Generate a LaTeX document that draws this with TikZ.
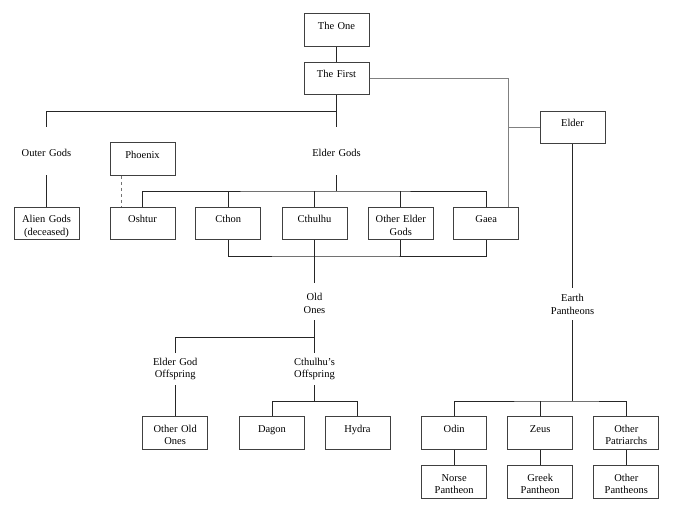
\documentclass[tikz,border=0pt]{standalone}
\usepackage{fontspec}
\setmainfont{Liberation Serif}
\usepackage{tikz}
\usetikzlibrary{positioning}

\tikzset{
  godbox/.style={draw=black!75,line width=1pt,minimum width=65pt,text width=57pt,align=center,
    inner xsep=2pt,inner ysep=2pt,text height=13.5pt,text depth=15pt},
  godname/.style={text width=60pt,align=center,inner sep=0pt,anchor=north},
  tie/.style={black!85,line width=1pt},
  link/.style={black!50,line width=1pt}
}

\begin{document}
\begin{tikzpicture}[x=1pt,y=-1pt,font=\fontsize{10.5}{12.7}\selectfont]
\useasboundingbox (0,0) rectangle (675,522);

\node[godbox] (one) at (336.5,30) {The One};
\node[godbox] (first) at (336.5,78.5) {The First};
\node[godbox] (elder) at (572.5,127.5) {Elder};
\node[godbox] (phoenix) at (142.5,159.2) {Phoenix};
\node[godname,text height=29pt,text depth=19pt] (outer) at (46.5,127) {Outer Gods};
\node[godname,text height=29pt,text depth=19pt] (eldergods) at (336.5,127) {Elder Gods};

\node[godbox] (alien) at (46.5,223.5) {Alien Gods\\(deceased)};
\node[godbox] (oshtur) at (142.5,223.5) {Oshtur};
\node[godbox] (cthon) at (228.3,223.5) {Cthon};
\node[godbox] (cthulhu) at (314.5,223.5) {Cthulhu};
\node[godbox] (otherelder) at (400.8,223.5) {Other Elder\\Gods};
\node[godbox] (gaea) at (486.2,223.5) {Gaea};

\node[godname,text height=17.7pt,text depth=19.3pt] (oldones) at (314.5,283) {Old\\Ones};
\node[godname,text height=13pt,text depth=18.7pt] (earth) at (572.5,288.3) {Earth\\Pantheons};
\node[godname,text height=12pt,text depth=20pt] (egoffspring) at (175.2,353) {Elder God\\Offspring};
\node[godname,text height=12pt,text depth=20pt] (coffspring) at (314.5,353) {Cthulhu's\\Offspring};

\node[godbox] (otherold) at (175.2,433) {Other Old\\Ones};
\node[godbox] (dagon) at (272,433) {Dagon};
\node[godbox] (hydra) at (357.5,433) {Hydra};
\node[godbox] (odin) at (454.2,433) {Odin};
\node[godbox] (zeus) at (540.2,433) {Zeus};
\node[godbox] (patriarchs) at (626.3,433) {Other\\Patriarchs};
\node[godbox] (norse) at (454.2,482) {Norse\\Pantheon};
\node[godbox] (greek) at (540.2,482) {Greek\\Pantheon};
\node[godbox] (otherpan) at (626.3,482) {Other\\Pantheons};

\coordinate (firstbus) at (336.5,111.7);
\coordinate (elderbus) at (336.5,191);
\coordinate (cthulhubus) at (314.5,256);
\coordinate (oldbus) at (314.5,337.3);
\coordinate (spawnbus) at (314.5,401.7);
\coordinate (earthbus) at (572.5,401);
\coordinate (gaealink) at (508.3,78.5);

\draw[tie] (one) -- (first);
\draw[tie] (first) -- (eldergods);
\draw[tie] (firstbus) -| (outer);
\draw[tie] (outer) -- (alien);

\draw[link] (first) -- (gaealink) -- (gaealink |- gaea.north);
\draw[link] (gaealink |- elder) -- (elder);

\draw[tie] (eldergods) -- (elderbus);
\draw[tie] (oshtur) |- (elderbus) -| (gaea);
\draw[tie] (cthon) -- (cthon |- elderbus);
\draw[tie] (cthulhu) -- (cthulhu |- elderbus);
\draw[tie] (otherelder) -- (otherelder |- elderbus);
\draw[black!55,line width=1pt,dashed] ([xshift=-21.5pt]phoenix.south) -- ([xshift=-21.5pt]oshtur.north);

\draw[tie] (cthon) |- (cthulhubus) -| (gaea);
\draw[tie] (otherelder) -- (otherelder |- cthulhubus);
\draw[tie] (cthulhu) -- (oldones);

\draw[tie] (oldones) -- (coffspring);
\draw[tie] (egoffspring) |- (oldbus);
\draw[tie] (egoffspring) -- (otherold);
\draw[tie] (coffspring) -- (spawnbus);
\draw[tie] (dagon) |- (spawnbus) -| (hydra);

\draw[tie] (elder) -- (earth);
\draw[tie] (earth) -- (earthbus);
\draw[tie] (odin) |- (earthbus) -| (patriarchs);
\draw[tie] (zeus) -- (zeus |- earthbus);
\draw[tie] (odin) -- (norse);
\draw[tie] (zeus) -- (greek);
\draw[tie] (patriarchs) -- (otherpan);
\end{tikzpicture}
\end{document}
